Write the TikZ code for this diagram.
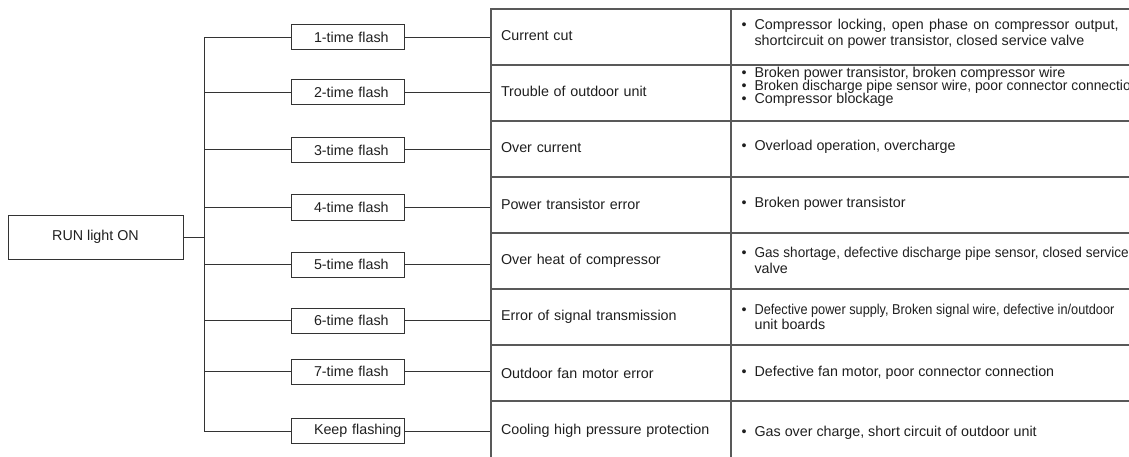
\documentclass[tikz,border=0pt]{standalone}
\usepackage{fontspec}
\setmainfont{Liberation Sans}
\newcommand{\tightls}{\lineskiplimit=-20pt\relax\lineskip=0pt\relax}
\begin{document}
\begin{tikzpicture}[x=1pt,y=-1pt,
  every node/.style={font=\fontsize{14.3}{16}\selectfont, text=black!88},
  tree/.style={draw=black!80, line width=1pt},
  tbl/.style={draw=black!65, line width=1.3pt},
  runbox/.style={tree, rectangle, minimum width=175pt, minimum height=44pt, inner sep=0pt},
  fbox/.style={tree, rectangle, minimum width=113pt, minimum height=25pt, inner sep=0pt, text width=113pt, align=left},
  cellA/.style={tbl, rectangle, minimum width=240pt, minimum height=56pt, inner xsep=10pt, inner ysep=0pt, text width=220pt, align=left},
  cellB/.style={tbl, rectangle, minimum width=469pt, minimum height=56pt, inner sep=0pt},
  ctext/.style={anchor=west, align=left, inner sep=0pt},
]
\useasboundingbox (0,0) rectangle (1129,457);
\clip (0,0) rectangle (1129,457);
\newcommand{\bl}{\llap{\textbullet\hspace{8pt}}}

% root
\node[runbox] (run) at (95.5,237) {RUN light ON};

% trunk coordinates
\coordinate (t1) at (204,37.5);
\coordinate (t2) at (204,92.5);
\coordinate (t3) at (204,150);
\coordinate (t4) at (204,207.5);
\coordinate (t5) at (204,264.5);
\coordinate (t6) at (204,320.5);
\coordinate (t7) at (204,371.5);
\coordinate (t8) at (204,431);

% flash boxes
\node[fbox] (f1) at (347.5,37.5) {\hspace*{23pt}1-time flash};
\node[fbox] (f2) at (347.5,92.5) {\hspace*{23pt}2-time flash};
\node[fbox] (f3) at (347.5,150) {\hspace*{23pt}3-time flash};
\node[fbox] (f4) at (347.5,207.5) {\hspace*{23pt}4-time flash};
\node[fbox] (f5) at (347.5,264.5) {\hspace*{23pt}5-time flash};
\node[fbox] (f6) at (347.5,320.5) {\hspace*{23pt}6-time flash};
\node[fbox] (f7) at (347.5,371.5) {\hspace*{23pt}7-time flash};
\node[fbox] (f8) at (347.5,431) {\hspace*{23pt}Keep flashing};

% table, first column
\node[cellA] (c1) at (611,37) {\raisebox{3pt}{Current cut}};
\node[cellA] (c2) at (611,93) {\raisebox{3pt}{Trouble of outdoor unit}};
\node[cellA] (c3) at (611,149) {\raisebox{2pt}{Over current}};
\node[cellA] (c4) at (611,205) {\raisebox{1pt}{Power transistor error}};
\node[cellA] (c5) at (611,261) {Over heat of compressor};
\node[cellA] (c6) at (611,317) {Error of signal transmission};
\node[cellA] (c7) at (611,373) {Outdoor fan motor error};
\node[cellA, minimum height=60pt] (c8) at (611,431) {Cooling high pressure protection};

% table, second column
\node[cellB] (d1) at (965.5,37) {};
\node[cellB] (d2) at (965.5,93) {};
\node[cellB] (d3) at (965.5,149) {};
\node[cellB] (d4) at (965.5,205) {};
\node[cellB] (d5) at (965.5,261) {};
\node[cellB] (d6) at (965.5,317) {};
\node[cellB] (d7) at (965.5,373) {};
\node[cellB, minimum height=60pt] (d8) at (965.5,431) {};

\node[ctext, font=\fontsize{14.3}{16}\selectfont] (x1) at ([xshift=24pt,yshift=3pt]d1.west)
  {\bl\makebox[364pt][s]{Compressor locking, open phase on compressor output,}\\
   shortcircuit on power transistor, closed service valve};
\node[ctext, font=\fontsize{14.3}{13}\selectfont\tightls] (x2) at ([xshift=24pt,yshift=6pt]d2.west)
  {\bl Broken power transistor, broken compressor wire\\
   \bl \scalebox{0.97}[1]{Broken discharge pipe sensor wire, poor connector connection}\\
   \bl Compressor blockage};
\node[ctext] (x3) at ([xshift=24pt,yshift=2pt]d3.west) {\bl Overload operation, overcharge};
\node[ctext] (x4) at ([xshift=24pt,yshift=1pt]d4.west) {\bl Broken power transistor};
\node[ctext, font=\fontsize{14.3}{16}\selectfont] (x5) at ([xshift=24pt,yshift=1pt]d5.west)
  {\bl\scalebox{0.95}[1]{\makebox[394pt][s]{Gas shortage, defective discharge pipe sensor, closed service}}\\
   valve};
\node[ctext, font=\fontsize{14.3}{15}\selectfont] (x6) at ([xshift=24pt,yshift=0pt]d6.west)
  {\bl \scalebox{0.89}[1]{Defective power supply, Broken signal wire, defective in/outdoor}\\
   unit boards};
\node[ctext] (x7) at ([xshift=24pt]d7.west) {\bl Defective fan motor, poor connector connection};
\node[ctext] (x8) at ([xshift=24pt,yshift=-2pt]d8.west |- f8) {\bl Gas over charge, short circuit of outdoor unit};

% connectors
\draw[tree] (t1) -- (t8);
\draw[tree] (run.east) -- (run.east -| t1);
\foreach \i in {1,...,8} {
  \draw[tree] (t\i) -- (f\i.west);
  \draw[tree] (f\i.east) -- (f\i.east -| c\i.west);
}
\end{tikzpicture}
\end{document}
